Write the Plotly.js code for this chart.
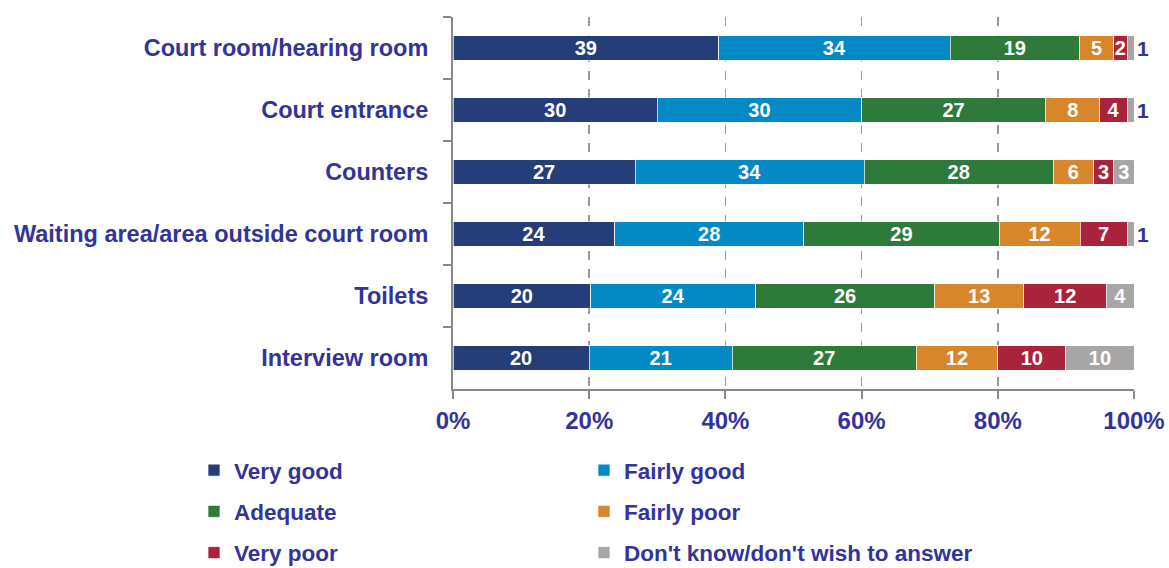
<!DOCTYPE html>
<html>
<head>
<meta charset="utf-8">
<script src="https://cdn.plot.ly/plotly-3.0.1.min.js"></script>
<style>html,body{margin:0;padding:0;background:#fff;}#chart{width:1169px;height:568px;}</style>
</head>
<body>
<div id="chart"></div>
<script>
const categories = ["Court room/hearing room", "Court entrance", "Counters", "Waiting area/area outside court room", "Toilets", "Interview room"];
const seriesNames = ["Very good", "Fairly good", "Adequate", "Fairly poor", "Very poor", "Don't know/don't wish to answer"];
const veryGood   = [39, 30, 27, 24, 20, 20];
const fairlyGood = [34, 30, 34, 28, 24, 21];
const adequate   = [19, 27, 28, 29, 26, 27];
const fairlyPoor = [5, 8, 6, 12, 13, 12];
const veryPoor   = [2, 4, 3, 7, 12, 10];
const dontKnow   = [1, 1, 3, 1, 4, 10];
const tickValues = [0, 20, 40, 60, 80, 100];
const tickLabels = ["0%", "20%", "40%", "60%", "80%", "100%"];

const colors = ["#253d78", "#0389c4", "#2e7a3a", "#d8862b", "#a8233b", "#a6a6a6"];
const series = [veryGood, fairlyGood, adequate, fairlyPoor, veryPoor, dontKnow];
const legendOf = ["legend", "legend2", "legend", "legend2", "legend", "legend2"];
const FONT = "Liberation Sans, Arial, sans-serif";
const TXT = "#333399";

const traces = series.map((vals, i) => {
  const positions = vals.map(v => (i === 5 && v <= 1) ? "outside" : "inside");
  return {
    type: "bar",
    orientation: "h",
    name: seriesNames[i],
    y: categories,
    x: vals,
    text: vals.map(String),
    texttemplate: "%{text}",
    textposition: positions,
    textangle: 0,
    insidetextanchor: "middle",
    constraintext: "none",
    cliponaxis: false,
    textfont: {family: FONT, size: 20, color: "#ffffff", weight: "bold"},
    insidetextfont: {family: FONT, size: 20, color: "#ffffff", weight: "bold"},
    outsidetextfont: {family: FONT, size: 21, color: TXT, weight: "bold"},
    marker: {color: colors[i], line: {color: "rgba(255,255,255,0.7)", width: 1}},
    legend: legendOf[i],
    legendgroup: "g" + i,
    hoverinfo: "name+x"
  };
});

const legendCommon = {
  orientation: "v",
  traceorder: "grouped",
  xref: "container", yref: "container",
  yanchor: "top", xanchor: "left",
  font: {family: FONT, size: 22.5, color: TXT, weight: "bold"},
  bgcolor: "rgba(0,0,0,0)",
  tracegroupgap: 9,
  itemclick: false, itemdoubleclick: false
};

const layout = {
  width: 1169, height: 568,
  margin: {l: 453, r: 35, t: 17, b: 179, autoexpand: false},
  paper_bgcolor: "#ffffff", plot_bgcolor: "#ffffff",
  barmode: "stack",
  barnorm: "percent",
  bargap: 0.6,
  showlegend: true,
  font: {family: FONT, color: TXT},
  xaxis: {
    range: [0, 100.0005],
    tickvals: tickValues,
    ticktext: tickLabels,
    ticks: "outside", ticklen: 8, tickcolor: "#888888", tickwidth: 2,
    showline: true, linecolor: "#888888", linewidth: 2,
    showgrid: true, gridcolor: "#999999", gridwidth: 1.5, griddash: "dash",
    zeroline: false,
    tickangle: 0,
    ticklabelstandoff: 1,
    tickfont: {family: FONT, size: 24, color: TXT, weight: "bold"},
    fixedrange: true
  },
  yaxis: {
    type: "category",
    categoryorder: "array", categoryarray: categories,
    autorange: "reversed",
    ticks: "outside", tickson: "boundaries", ticklen: 8, tickcolor: "#888888", tickwidth: 2,
    showline: true, linecolor: "#888888", linewidth: 2,
    showgrid: false, zeroline: false,
    ticklabelstandoff: 18,
    tickfont: {family: FONT, size: 23.5, color: TXT, weight: "bold"},
    fixedrange: true
  },
  legend: Object.assign({}, legendCommon, {x: 194 / 1169, y: 1 - 449 / 568}),
  legend2: Object.assign({}, legendCommon, {x: 584 / 1169, y: 1 - 449 / 568})
};

Plotly.newPlot("chart", traces, layout, {displayModeBar: false, staticPlot: true});
</script>
</body>
</html>
